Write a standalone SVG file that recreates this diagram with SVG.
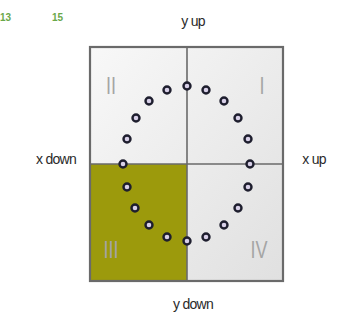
<svg xmlns="http://www.w3.org/2000/svg" width="342" height="329" viewBox="0 0 342 329">
<defs>
<linearGradient id="g" x1="0" y1="0" x2="1" y2="1">
<stop offset="0" stop-color="#f8f8f8"/>
<stop offset="1" stop-color="#e0e0e0"/>
</linearGradient>
</defs>
<style>
.lbl{font-family:"Liberation Sans",Arial,sans-serif;font-size:14px;fill:#2a2a2a;letter-spacing:-0.7px}
.num{font-family:"Liberation Sans",Arial,sans-serif;font-size:10px;font-weight:bold;fill:#6aa84a}
.q{font-family:"Liberation Sans",Arial,sans-serif;font-size:24px;fill:#a5a5a5}
.d{fill:#d8d0e8;stroke:#1e1e2e;stroke-width:2.4}
</style>
<rect x="0" y="0" width="342" height="329" fill="#ffffff"/>
<g id="labels">
<text class="num" x="0" y="21">13</text>
<text class="num" x="52" y="21">15</text>
<text class="lbl" x="193" y="26" text-anchor="middle">y up</text>
<text class="lbl" x="56" y="164" text-anchor="middle">x down</text>
<text class="lbl" x="314" y="164" text-anchor="middle">x up</text>
<text class="lbl" x="193" y="309" text-anchor="middle">y down</text>
</g>
<g id="quadrants">
<rect x="90" y="47" width="193" height="234" fill="url(#g)"/>
<rect x="90" y="164" width="97" height="117" fill="#9c9a0c"/>
</g>
<g id="connectors" stroke="#6a6a6a" fill="none">
<line x1="187" y1="47" x2="187" y2="281" stroke-width="1.6"/>
<line x1="90" y1="164" x2="283" y2="164" stroke-width="1.6"/>
<rect x="90" y="47" width="193" height="234" stroke-width="2.2"/>
</g>
<g id="quadrant-labels">
<text class="q" transform="translate(111 94) scale(0.75 1)" text-anchor="middle">II</text>
<text class="q" transform="translate(262 94) scale(0.75 1)" text-anchor="middle">I</text>
<text class="q" transform="translate(111 258) scale(0.75 1)" text-anchor="middle">III</text>
<text class="q" transform="translate(259 258) scale(0.75 1)" text-anchor="middle">IV</text>
</g>
<g id="dots">
<circle class="d" cx="187" cy="86" r="3.5"/>
<circle class="d" cx="206" cy="90" r="3.5"/>
<circle class="d" cx="224" cy="101" r="3.5"/>
<circle class="d" cx="238" cy="118" r="3.5"/>
<circle class="d" cx="248" cy="139" r="3.5"/>
<circle class="d" cx="250" cy="164" r="3.5"/>
<circle class="d" cx="248" cy="187" r="3.5"/>
<circle class="d" cx="238" cy="208" r="3.5"/>
<circle class="d" cx="224" cy="225" r="3.5"/>
<circle class="d" cx="206" cy="237" r="3.5"/>
<circle class="d" cx="187" cy="241" r="3.5"/>
<circle class="d" cx="167" cy="237" r="3.5"/>
<circle class="d" cx="149" cy="225" r="3.5"/>
<circle class="d" cx="135" cy="208" r="3.5"/>
<circle class="d" cx="127" cy="187" r="3.5"/>
<circle class="d" cx="123" cy="164" r="3.5"/>
<circle class="d" cx="127" cy="139" r="3.5"/>
<circle class="d" cx="136" cy="118" r="3.5"/>
<circle class="d" cx="149" cy="101" r="3.5"/>
<circle class="d" cx="167" cy="90" r="3.5"/>
</g>
</svg>
